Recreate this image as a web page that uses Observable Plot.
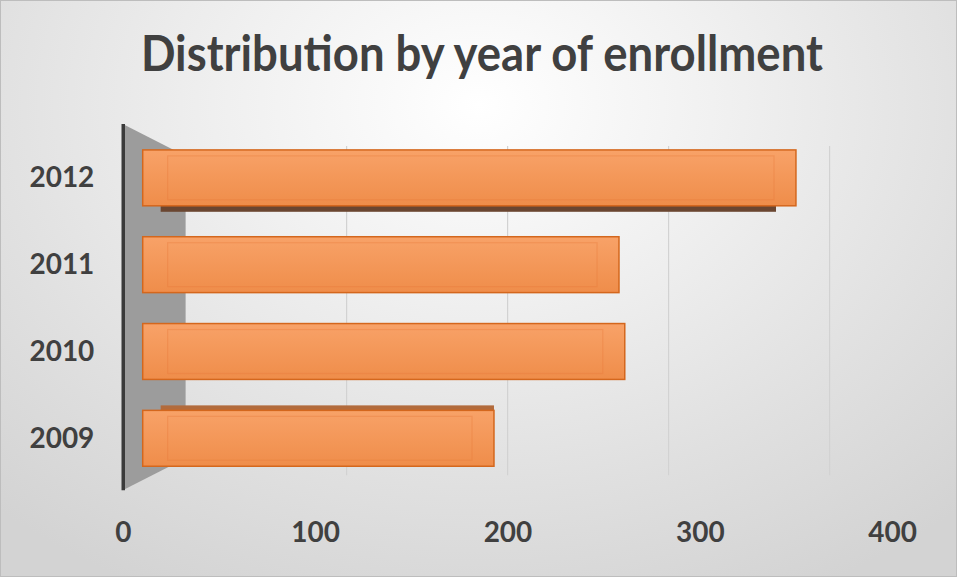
<!DOCTYPE html>
<html>
<head>
<meta charset="utf-8">
<script src="https://cdn.jsdelivr.net/npm/d3@7"></script>
<script src="https://cdn.jsdelivr.net/npm/@observablehq/plot@0.6"></script>
<style>
  html, body { margin: 0; padding: 0; }
  #wrap {
    position: relative; width: 957px; height: 577px; box-sizing: border-box;
    border: 1px solid #bdbdbd; overflow: hidden;
    background: radial-gradient(ellipse 75% 95% at 50% 18%, #ffffff 0%, #f0f0f0 35%, #e0e0e0 70%, #d3d3d3 100%);
    font-family: Lato, "Open Sans", sans-serif;
  }
  #title {
    position: absolute; left: 0; top: 0; width: 957px; height: 110px;
    text-align: center; line-height: 102px;
  }
  #title span {
    display: inline-block; font-size: 50px; font-weight: 700; color: #404040;
    transform-origin: 50% 50%; white-space: nowrap;
  }
  #chart { position: absolute; left: 0; top: 110px; }
</style>
</head>
<body>
<div id="wrap">
  <div id="title"><span>Distribution by year of enrollment</span></div>
  <div id="chart"></div>
</div>
<script>
const years = ["2012", "2011", "2010", "2009"];
const values = [350, 258, 261, 193];
const xTicks = [0, 100, 200, 300, 400];

const data = years.map((y, i) => ({year: y, value: values[i]}));

// fit title width
const span = document.querySelector("#title span");
const w = span.getBoundingClientRect().width;
span.style.transform = `translateX(2px) scaleX(${682 / w})`;

const chart = Plot.plot({
  width: 957,
  height: 467,
  marginLeft: 122,
  marginRight: 64,
  marginTop: 7.5,
  marginBottom: 79.5,
  style: {background: "transparent", fontFamily: "Lato, sans-serif", fontSize: "28px", fontWeight: "700", color: "#404040", overflow: "visible"},
  x: {domain: [0, 400], ticks: xTicks, tickSize: 0, tickPadding: 24, label: null, tickFormat: d => String(d)},
  y: {domain: years, padding: 0.36, tickSize: 0, tickPadding: 29, label: null},
  marks: [
    // left axis line
    Plot.ruleX([0], {stroke: "#3a3a3a", strokeWidth: 3.5, insetTop: 5.5, insetBottom: 7.5}),
    // bottom 3D face (2012) and top face (2009)
    Plot.barX(data.filter(d => d.year === "2012"), {x: "value", y: "year", insetLeft: 38, insetRight: 20, dy: 6, fill: "#6a4631"}),
    Plot.barX(data.filter(d => d.year === "2009"), {x: "value", y: "year", insetLeft: 38, insetRight: 0, dy: -5, fill: "#b26b3c"}),
    // front faces
    Plot.barX(data, {x: "value", y: "year", insetLeft: 20, fill: "url(#barGrad)", stroke: "#d4671d", strokeWidth: 1.5}),
    // inner bevel edges
    Plot.barX(data, {x: "value", y: "year", insetLeft: 45, insetRight: 22, insetTop: 6, insetBottom: 6, fill: "none", stroke: "#e9793a", strokeOpacity: 0.35, strokeWidth: 1.2})
  ]
});

document.getElementById("chart").appendChild(chart);

// decorations derived from the scales: gradient defs, side wall and back gridlines
const svg = d3.select(chart);
const xs = chart.scale("x");
const x0 = xs.apply(0);
const defs = svg.insert("defs", ":first-child");
const g = defs.append("linearGradient").attr("id", "barGrad").attr("x1", 0).attr("x2", 0).attr("y1", 0).attr("y2", 1);
g.append("stop").attr("offset", "0%").attr("stop-color", "#f8a268");
g.append("stop").attr("offset", "100%").attr("stop-color", "#ef8d4a");

const deco = svg.insert("g", "defs + *");
// back gridlines (perspective-shrunk back plane)
const backX = v => x0 + 63 + (xs.apply(v) - x0) * 0.837;
[100, 200, 300, 400].forEach(v => {
  deco.append("line")
    .attr("x1", backX(v)).attr("x2", backX(v))
    .attr("y1", 35).attr("y2", 365)
    .attr("stroke", "#d2d2d2").attr("stroke-width", 1.2);
});
// side wall
deco.append("polygon")
  .attr("points", [[x0, 13], [x0 + 63, 45], [x0 + 63, 348], [x0, 380]].map(p => p.join(",")).join(" "))
  .attr("fill", "#9c9c9c");
</script>
</body>
</html>
